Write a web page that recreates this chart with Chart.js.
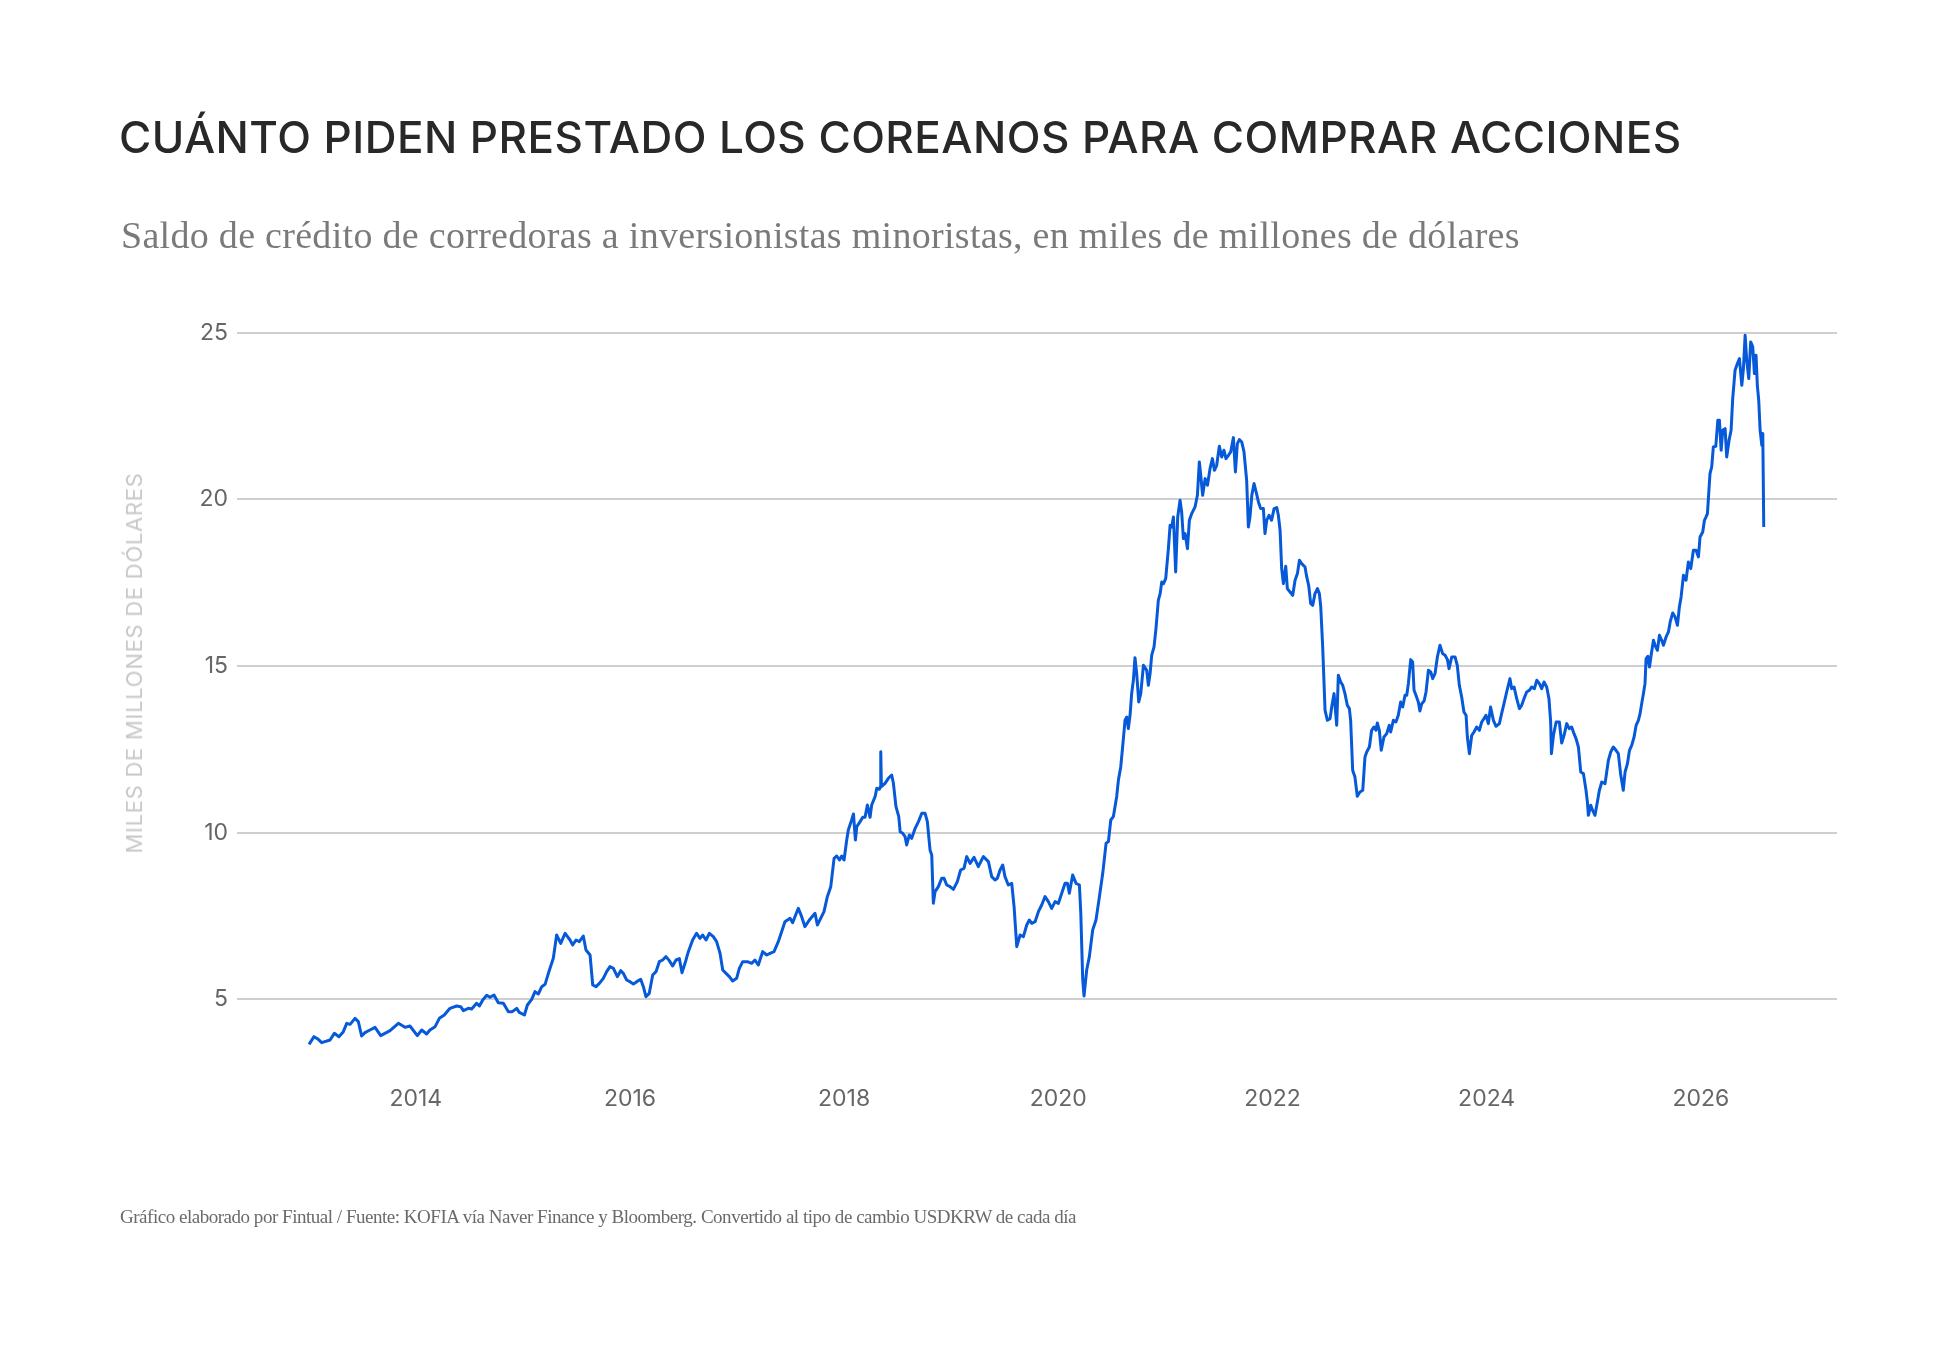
<!DOCTYPE html>
<html lang="es">
<head>
<meta charset="utf-8">
<title>Cuánto piden prestado los coreanos para comprar acciones</title>
<script src="https://cdn.jsdelivr.net/npm/chart.js@4.4.1/dist/chart.umd.min.js"></script>
<style>
  html, body { margin: 0; padding: 0; background: #fff; }
  #wrap { position: relative; width: 1956px; height: 1349px; overflow: hidden; }
  #grafico { position: absolute; left: 0; top: 0; }
  .txt { position: absolute; white-space: nowrap; margin: 0; }
  #titulo { left: 119px; top: 115px; font: 500 44px/44px Inter, "Noto Sans", sans-serif; color: #282828; }
  #subtitulo { left: 121px; top: 216px; font: 400 38px/38px "Liberation Serif", "DejaVu Serif", serif; color: #7a7a7a; }
  #nota { left: 120px; top: 1207px; font: 400 19px/19px "Liberation Serif", "DejaVu Serif", serif; color: #6a6a6a; }
  #ejeY { left: 134px; top: 663px; font: 400 22px/22px Inter, "Noto Sans", sans-serif; color: #c8c8c8;
          transform: translate(-50%, -50%) rotate(-90deg); }
</style>
</head>
<body>
<div id="wrap">
  <canvas id="grafico" width="1956" height="1349"></canvas>
  <h1 class="txt" id="titulo">CUÁNTO PIDEN PRESTADO LOS COREANOS PARA COMPRAR ACCIONES</h1>
  <p class="txt" id="subtitulo">Saldo de crédito de corredoras a inversionistas minoristas, en miles de millones de dólares</p>
  <div class="txt" id="ejeY">MILES DE MILLONES DE DÓLARES</div>
  <p class="txt" id="nota">Gráfico elaborado por Fintual / Fuente: KOFIA vía Naver Finance y Bloomberg. Convertido al tipo de cambio USDKRW de cada día</p>
</div>
<script>
// fecha en años decimales, saldo en miles de millones de USD
const fechas = [
  2013.003, 2013.049, 2013.089, 2013.121, 2013.199, 2013.239, 2013.282, 2013.323, 2013.355, 2013.386,
  2013.432, 2013.463, 2013.494, 2013.525, 2013.572, 2013.619, 2013.672, 2013.759, 2013.837, 2013.899,
  2013.945, 2014.014, 2014.055, 2014.101, 2014.132, 2014.180, 2014.220, 2014.266, 2014.319, 2014.381,
  2014.419, 2014.444, 2014.490, 2014.521, 2014.568, 2014.594, 2014.625, 2014.662, 2014.693, 2014.730,
  2014.770, 2014.818, 2014.864, 2014.901, 2014.942, 2014.966, 2015.014, 2015.042, 2015.082, 2015.113,
  2015.144, 2015.176, 2015.207, 2015.238, 2015.284, 2015.315, 2015.353, 2015.394, 2015.440,
  2015.465, 2015.496, 2015.527, 2015.564, 2015.589, 2015.627, 2015.652, 2015.683, 2015.714, 2015.751,
  2015.782, 2015.813, 2015.845, 2015.882, 2015.913, 2015.938, 2015.969, 2016.000, 2016.032, 2016.063,
  2016.100, 2016.125, 2016.149, 2016.180, 2016.212, 2016.243, 2016.274, 2016.305, 2016.336, 2016.367,
  2016.398, 2016.430, 2016.461, 2016.486, 2016.514, 2016.545, 2016.585, 2016.622, 2016.654, 2016.679,
  2016.710, 2016.741, 2016.778, 2016.809, 2016.841, 2016.866, 2016.897, 2016.928, 2016.959, 2016.996,
  2017.021, 2017.053, 2017.096, 2017.136, 2017.167, 2017.198, 2017.239, 2017.277, 2017.308, 2017.345,
  2017.385, 2017.447, 2017.495, 2017.519, 2017.572, 2017.603, 2017.634, 2017.675, 2017.728, 2017.750,
  2017.812, 2017.843, 2017.875, 2017.906, 2017.931, 2017.956, 2017.977, 2017.999, 2018.024, 2018.039,
  2018.070, 2018.087, 2018.105, 2018.118, 2018.149, 2018.174, 2018.195, 2018.217, 2018.242, 2018.257,
  2018.289, 2018.305, 2018.329, 2018.339, 2018.342, 2018.348, 2018.382, 2018.413, 2018.444, 2018.460,
  2018.484, 2018.510, 2018.523, 2018.547, 2018.569, 2018.584, 2018.609, 2018.631, 2018.663, 2018.694,
  2018.725, 2018.756, 2018.777, 2018.802, 2018.818, 2018.833, 2018.849, 2018.880, 2018.911, 2018.933,
  2018.958, 2018.989, 2019.020, 2019.057, 2019.088, 2019.119, 2019.145, 2019.176, 2019.213, 2019.253,
  2019.300, 2019.347, 2019.378, 2019.409, 2019.431, 2019.456, 2019.481, 2019.502, 2019.533, 2019.565,
  2019.587, 2019.612, 2019.643, 2019.674, 2019.705, 2019.729, 2019.752, 2019.783, 2019.814, 2019.845,
  2019.876, 2019.907, 2019.938, 2019.970, 2020.001, 2020.032, 2020.063, 2020.085, 2020.103, 2020.134,
  2020.166, 2020.197, 2020.210, 2020.228, 2020.240, 2020.265, 2020.290, 2020.321, 2020.352, 2020.384,
  2020.415, 2020.446, 2020.468, 2020.490, 2020.514, 2020.545,
  2020.561, 2020.583, 2020.602, 2020.623, 2020.639, 2020.654, 2020.670, 2020.685, 2020.701, 2020.716,
  2020.732, 2020.751, 2020.770, 2020.795, 2020.826, 2020.841, 2020.857, 2020.872, 2020.894, 2020.912,
  2020.934, 2020.951, 2020.966, 2020.982, 2021.003, 2021.028, 2021.044, 2021.059, 2021.075, 2021.096,
  2021.115, 2021.137, 2021.152, 2021.168, 2021.184, 2021.206, 2021.224, 2021.246, 2021.277, 2021.299,
  2021.317, 2021.330, 2021.348, 2021.371, 2021.393, 2021.417, 2021.439, 2021.458, 2021.479, 2021.504,
  2021.526, 2021.547, 2021.566, 2021.589, 2021.610, 2021.635, 2021.654, 2021.672, 2021.691, 2021.713,
  2021.734, 2021.759, 2021.775, 2021.790, 2021.807, 2021.828, 2021.847, 2021.869, 2021.890, 2021.915,
  2021.930, 2021.946, 2021.968, 2021.992, 2022.015, 2022.040, 2022.055, 2022.071, 2022.086, 2022.102,
  2022.124, 2022.139, 2022.164, 2022.189, 2022.211, 2022.233, 2022.252, 2022.273, 2022.304, 2022.320,
  2022.338, 2022.357, 2022.376, 2022.397, 2022.420, 2022.438, 2022.451, 2022.469, 2022.491, 2022.513,
  2022.538, 2022.553, 2022.575, 2022.600, 2022.615, 2022.637,
  2022.656, 2022.677, 2022.699, 2022.718, 2022.730, 2022.749, 2022.770, 2022.792, 2022.817, 2022.843,
  2022.864, 2022.880, 2022.905, 2022.926, 2022.948, 2022.967, 2022.979, 2022.998, 2023.016, 2023.041,
  2023.067, 2023.091, 2023.104, 2023.129, 2023.153, 2023.175, 2023.197, 2023.216, 2023.238, 2023.254,
  2023.269, 2023.291, 2023.309, 2023.322, 2023.340, 2023.362, 2023.377, 2023.394, 2023.416, 2023.434,
  2023.456, 2023.478, 2023.496, 2023.518, 2023.540, 2023.564, 2023.589, 2023.612, 2023.634, 2023.649,
  2023.674, 2023.705, 2023.726, 2023.745, 2023.767, 2023.788, 2023.808, 2023.820, 2023.839, 2023.861,
  2023.882, 2023.907, 2023.932, 2023.954, 2023.975, 2023.994, 2024.016, 2024.037, 2024.063, 2024.088,
  2024.119, 2024.140, 2024.162, 2024.187, 2024.218, 2024.234, 2024.256, 2024.281, 2024.306, 2024.327,
  2024.349, 2024.374, 2024.399, 2024.421, 2024.446, 2024.468, 2024.493, 2024.514, 2024.536, 2024.561,
  2024.582, 2024.598, 2024.605, 2024.624, 2024.649, 2024.679, 2024.701, 2024.723, 2024.748, 2024.772,
  2024.794, 2024.816, 2024.835, 2024.857, 2024.879, 2024.904, 2024.928, 2024.941, 2024.950, 2024.972,
  2024.990, 2025.012, 2025.034, 2025.053, 2025.075, 2025.106, 2025.137, 2025.159, 2025.183, 2025.208,
  2025.230, 2025.251, 2025.276,
  2025.293, 2025.315, 2025.334, 2025.355, 2025.377, 2025.396, 2025.417, 2025.433, 2025.448, 2025.464,
  2025.479, 2025.489, 2025.505, 2025.521, 2025.536, 2025.558, 2025.573, 2025.595, 2025.614, 2025.635,
  2025.651, 2025.676, 2025.698, 2025.714, 2025.738, 2025.760, 2025.782, 2025.800, 2025.816, 2025.838,
  2025.862, 2025.884, 2025.906, 2025.931, 2025.956, 2025.978, 2025.993, 2026.018, 2026.034, 2026.049,
  2026.062, 2026.074, 2026.086, 2026.102, 2026.117, 2026.140, 2026.159, 2026.174, 2026.190, 2026.205,
  2026.227, 2026.242, 2026.264, 2026.283, 2026.298, 2026.320, 2026.342, 2026.361, 2026.383, 2026.398,
  2026.414, 2026.429, 2026.448, 2026.466, 2026.485, 2026.501, 2026.516, 2026.528, 2026.541, 2026.554,
  2026.570, 2026.579, 2026.588
];

const saldo = [
  3.65, 3.88, 3.80, 3.70, 3.78, 3.98, 3.88, 4.03, 4.28, 4.25,
  4.43, 4.33, 3.90, 4.00, 4.08, 4.16, 3.91, 4.06, 4.28, 4.16,
  4.20, 3.91, 4.08, 3.96, 4.08, 4.18, 4.43, 4.53, 4.73, 4.80,
  4.78, 4.66, 4.73, 4.71, 4.88, 4.80, 4.98, 5.12, 5.06, 5.13,
  4.90, 4.88, 4.63, 4.63, 4.73, 4.61, 4.53, 4.83, 5.00, 5.23,
  5.16, 5.38, 5.45, 5.78, 6.23, 6.93, 6.68, 6.98, 6.78,
  6.63, 6.78, 6.73, 6.90, 6.48, 6.33, 5.43, 5.38, 5.48, 5.63,
  5.83, 5.98, 5.93, 5.68, 5.86, 5.78, 5.58, 5.53, 5.46, 5.53,
  5.60, 5.38, 5.08, 5.18, 5.73, 5.83, 6.13, 6.18, 6.28, 6.16,
  6.00, 6.18, 6.22, 5.80, 6.08, 6.43, 6.78, 6.98, 6.83, 6.93,
  6.78, 6.98, 6.88, 6.73, 6.38, 5.88, 5.78, 5.68, 5.55, 5.63,
  5.93, 6.13, 6.13, 6.08, 6.18, 6.03, 6.43, 6.33, 6.38, 6.43,
  6.73, 7.33, 7.43, 7.30, 7.73, 7.48, 7.18, 7.38, 7.58, 7.23,
  7.63, 8.08, 8.38, 9.23, 9.30, 9.18, 9.30, 9.18, 9.78, 10.08,
  10.38, 10.56, 9.78, 10.18, 10.33, 10.46, 10.46, 10.83, 10.46, 10.83,
  11.08, 11.33, 11.30, 11.38, 12.43, 11.38, 11.48, 11.63, 11.73, 11.48,
  10.78, 10.48, 10.03, 9.98, 9.88, 9.63, 9.93, 9.83, 10.13, 10.33,
  10.58, 10.58, 10.33, 9.48, 9.33, 7.88, 8.23, 8.38, 8.63, 8.63,
  8.43, 8.38, 8.30, 8.53, 8.88, 8.93, 9.28, 9.08, 9.26, 8.98,
  9.28, 9.13, 8.68, 8.58, 8.63, 8.88, 9.03, 8.68, 8.43, 8.48,
  7.78, 6.58, 6.93, 6.88, 7.23, 7.38, 7.28, 7.33, 7.63, 7.83,
  8.08, 7.93, 7.73, 7.93, 7.88, 8.18, 8.48, 8.48, 8.18, 8.73,
  8.48, 8.43, 7.58, 5.58, 5.10, 5.88, 6.28, 7.08, 7.38, 8.08,
  8.78, 9.68, 9.73, 10.38, 10.48, 11.08,
  11.57, 11.97, 12.62, 13.37, 13.47, 13.12, 13.52, 14.17, 14.57, 15.25,
  14.77, 13.92, 14.17, 15.02, 14.87, 14.42, 14.77, 15.32, 15.57, 16.12,
  16.97, 17.17, 17.52, 17.47, 17.62, 18.52, 19.22, 19.17, 19.47, 17.82,
  19.47, 19.97, 19.62, 18.82, 18.97, 18.52, 19.37, 19.57, 19.77, 20.12,
  21.12, 20.72, 20.12, 20.62, 20.42, 20.92, 21.22, 20.87, 21.02, 21.59,
  21.27, 21.47, 21.22, 21.32, 21.42, 21.85, 20.82, 21.67, 21.79, 21.72,
  21.42, 20.57, 19.17, 19.47, 20.12, 20.47, 20.22, 19.92, 19.72, 19.72,
  18.97, 19.37, 19.52, 19.37, 19.72, 19.75, 19.52, 19.07, 17.92, 17.47,
  17.99, 17.32, 17.22, 17.12, 17.57, 17.77, 18.17, 18.07, 17.97, 17.67,
  17.42, 16.87, 16.82, 17.17, 17.32, 17.17, 16.77, 15.57, 13.67, 13.37,
  13.42, 13.77, 14.17, 13.22, 14.72, 14.52,
  14.42, 14.17, 13.82, 13.72, 13.37, 11.87, 11.67, 11.09, 11.22, 11.27,
  12.27, 12.42, 12.57, 13.07, 13.17, 13.07, 13.29, 13.07, 12.47, 12.87,
  12.97, 13.22, 13.02, 13.37, 13.32, 13.52, 13.92, 13.77, 14.12, 14.12,
  14.47, 15.19, 15.12, 14.27, 14.12, 13.92, 13.65, 13.87, 13.95, 14.22,
  14.87, 14.82, 14.62, 14.77, 15.27, 15.62, 15.37, 15.32, 15.19, 14.92,
  15.27, 15.27, 15.02, 14.42, 14.07, 13.62, 13.52, 12.87, 12.37, 12.92,
  13.02, 13.17, 13.07, 13.32, 13.42, 13.52, 13.27, 13.77, 13.37, 13.19,
  13.27, 13.57, 13.87, 14.22, 14.62, 14.32, 14.37, 14.02, 13.72, 13.82,
  14.02, 14.22, 14.27, 14.37, 14.32, 14.57, 14.47, 14.32, 14.52, 14.37,
  14.02, 13.32, 12.37, 12.92, 13.32, 13.32, 12.69, 12.92, 13.27, 13.12,
  13.17, 12.97, 12.82, 12.57, 11.82, 11.77, 11.27, 10.92, 10.52, 10.82,
  10.67, 10.52, 10.92, 11.27, 11.52, 11.47, 12.17, 12.42, 12.57, 12.47,
  12.37, 11.77, 11.27,
  11.82, 12.07, 12.47, 12.62, 12.87, 13.22, 13.37, 13.57, 13.87, 14.17,
  14.47, 15.22, 15.29, 14.97, 15.32, 15.77, 15.62, 15.47, 15.92, 15.77,
  15.62, 15.87, 16.02, 16.32, 16.59, 16.47, 16.22, 16.77, 17.07, 17.72,
  17.57, 18.12, 17.92, 18.47, 18.47, 18.27, 18.87, 19.02, 19.37, 19.47,
  19.57, 20.17, 20.77, 20.97, 21.57, 21.59, 22.37, 22.37, 21.47, 22.07,
  22.12, 21.27, 21.77, 22.07, 23.02, 23.87, 24.07, 24.22, 23.42, 23.92,
  24.92, 24.17, 23.62, 24.72, 24.57, 23.77, 24.32, 23.42, 22.97, 22.07,
  21.62, 21.97, 19.17
];

const yearTicks = [2014, 2016, 2018, 2020, 2022, 2024, 2026];
const valueTicks = [5, 10, 15, 20, 25];

// ajusta el espaciado de letras para que el texto ocupe el ancho del original
function ajustarAncho(id, ancho) {
  const el = document.getElementById(id);
  const w = el.offsetWidth;
  const n = el.textContent.length;
  el.style.letterSpacing = ((ancho - w) / n) + 'px';
}
ajustarAncho('titulo', 1563);
ajustarAncho('subtitulo', 1399);
ajustarAncho('nota', 956);
ajustarAncho('ejeY', 381);

const fuenteTicks = { family: 'Inter, "Noto Sans", sans-serif', size: 23, weight: 400 };

const ctx = document.getElementById('grafico').getContext('2d');
new Chart(ctx, {
  type: 'line',
  data: {
    datasets: [{
      data: fechas.map((f, i) => ({ x: f, y: saldo[i] })),
      borderColor: '#0659d9',
      borderWidth: 3,
      borderJoinStyle: 'round',
      pointRadius: 0,
      tension: 0,
      fill: false
    }]
  },
  options: {
    responsive: false,
    animation: false,
    devicePixelRatio: 1,
    layout: { padding: { top: 332.6, right: 119, bottom: 0, left: 0 } },
    plugins: { legend: { display: false }, tooltip: { enabled: false }, title: { display: false } },
    scales: {
      x: {
        type: 'linear',
        min: 2012.33,
        max: 2027.272,
        grid: { display: false },
        border: { display: false },
        afterBuildTicks: s => { s.ticks = yearTicks.map(v => ({ value: v })); },
        afterFit: s => { s.height = 283; },
        ticks: { padding: 11, color: '#666666', font: fuenteTicks, maxRotation: 0, callback: v => String(v) }
      },
      y: {
        min: 3,
        max: 25,
        grid: { color: '#cfcfcf', lineWidth: 2, drawTicks: false },
        border: { display: false },
        afterBuildTicks: s => { s.ticks = valueTicks.map(v => ({ value: v })); },
        afterFit: s => { s.width = 237; },
        ticks: { padding: 9, color: '#666666', font: fuenteTicks, callback: v => String(v) }
      }
    }
  }
});
</script>
</body>
</html>
